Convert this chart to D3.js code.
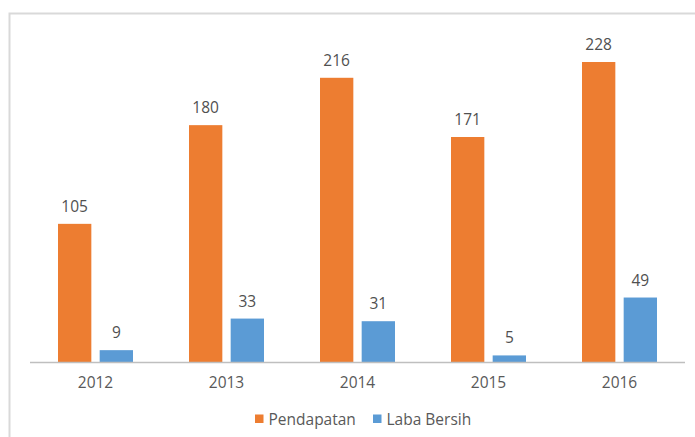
<!DOCTYPE html>
<html>
<head>
<meta charset="utf-8">
<script src="https://cdn.jsdelivr.net/npm/d3@7"></script>
<style>
  html, body { margin: 0; padding: 0; background: #fff; }
  svg { display: block; }
  text { font-family: "Open Sans", "Segoe UI", sans-serif; }
</style>
</head>
<body>
<svg id="chart" width="695" height="437"></svg>
<script>
const categories = ["2012", "2013", "2014", "2015", "2016"];
const seriesNames = ["Pendapatan", "Laba Bersih"];
const pendapatan = [105, 180, 216, 171, 228];
const labaBersih = [9, 33, 31, 5, 49];
const colors = ["#ED7D31", "#5B9BD5"];

const svg = d3.select("#chart");

// chart frame
svg.append("rect")
  .attr("x", 9.5).attr("y", 13.5)
  .attr("width", 720).attr("height", 500)
  .attr("fill", "none").attr("stroke", "#D9D9D9").attr("stroke-width", 2);

const baseY = 362;
const x0 = d3.scaleBand().domain(categories).range([30, 685]).paddingInner(0).paddingOuter(0);
const x1 = d3.scaleBand().domain(seriesNames).range([0, 75]).paddingInner(0.2).paddingOuter(0);
const y = d3.scaleLinear().domain([0, 228]).range([baseY, 62]);

const data = categories.map((c, i) => ({
  cat: c,
  values: [
    { name: seriesNames[0], v: pendapatan[i], color: colors[0] },
    { name: seriesNames[1], v: labaBersih[i], color: colors[1] }
  ]
}));

const groups = svg.append("g").selectAll("g").data(data).join("g")
  .attr("transform", d => `translate(${x0(d.cat) + (x0.bandwidth() - 75) / 2},0)`);

groups.selectAll("rect").data(d => d.values).join("rect")
  .attr("x", d => x1(d.name))
  .attr("y", d => y(d.v))
  .attr("width", x1.bandwidth())
  .attr("height", d => baseY - y(d.v))
  .attr("fill", d => d.color);

groups.selectAll("text").data(d => d.values).join("text")
  .attr("x", d => x1(d.name) + x1.bandwidth() / 2)
  .attr("y", d => y(d.v) - 12)
  .attr("text-anchor", "middle")
  .attr("font-size", "15.5px")
  .attr("fill", "#505050")
  .text(d => d.v);

// x axis
const xAxis = d3.axisBottom(x0).tickSize(0).tickPadding(0);
const ax = svg.append("g").attr("transform", `translate(0,${baseY})`).call(xAxis);
ax.select(".domain").attr("stroke", "#BFBFBF").attr("stroke-width", 1.5)
  .attr("d", "M30,0.5H685");
ax.selectAll("text")
  .attr("y", 26)
  .attr("dy", 0)
  .attr("font-size", "15.5px")
  .attr("font-family", "'Open Sans', sans-serif")
  .attr("fill", "#595959");

// legend
const legend = svg.append("g");
const legendItems = [
  { name: seriesNames[0], color: colors[0], x: 255 },
  { name: seriesNames[1], color: colors[1], x: 373 }
];
legendItems.forEach(it => {
  legend.append("rect").attr("x", it.x).attr("y", 414.5)
    .attr("width", 8.5).attr("height", 8.5).attr("fill", it.color);
  legend.append("text").attr("x", it.x + 13.5).attr("y", 425)
    .attr("font-size", "15.5px").attr("fill", "#595959").text(it.name);
});
</script>
</body>
</html>
